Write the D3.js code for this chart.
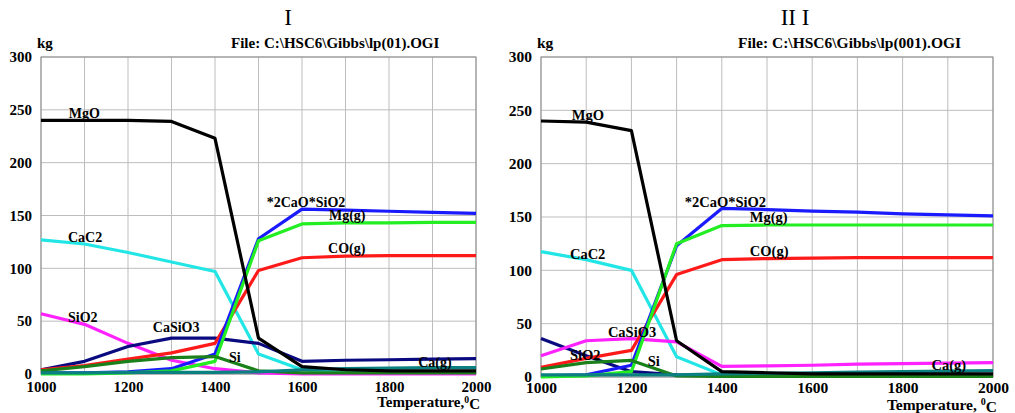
<!DOCTYPE html>
<html>
<head>
<meta charset="utf-8">
<script src="https://cdn.jsdelivr.net/npm/d3@7"></script>
<style>
  body { margin: 0; background: #fff; }
</style>
</head>
<body>
<svg id="chart" width="1015" height="413"></svg>
<script>
// temperatures, degC
var temps = [1000, 1100, 1200, 1300, 1400, 1500, 1600, 1700, 1800, 1900, 2000];
var yTicks = [0, 50, 100, 150, 200, 250, 300];
var xTickLabels = [1000, 1200, 1400, 1600, 1800, 2000];

// panel I  (lp(01))
var mgoI    = [240, 240, 240, 239, 223, 34, 7, 4, 3, 3, 3];
var cac2I   = [127, 123, 115, 106, 97, 19, 4, 1, 1, 1, 1];
var dicalI  = [1, 1, 2, 5, 19, 128, 156, 155, 154, 153, 152];
var mggI    = [0, 0, 1, 3, 12, 126, 142, 143, 143, 143.5, 143.5];
var coI     = [4, 8, 14, 20, 29, 98, 110, 111.5, 112, 112, 112];
var sio2I   = [57, 47, 29, 13, 5, 1, 0, 0, 0, 0, 0];
var casio3I = [4, 12, 26, 34, 34, 29, 12, 13, 13.5, 14, 14.5];
var siI     = [3, 7, 12, 15.5, 16.5, 3, 1, 1, 1, 1, 1];
var otherI  = [1, 1, 1.5, 1.5, 1.5, 2, 4, 5, 5.5, 6, 6];

// panel II I  (lp(001))
var mgoII   = [240, 239, 231, 34, 5, 4, 3, 3, 3, 3, 3];
var cac2II  = [117.5, 110, 100, 19, 2, 1, 1, 1, 1, 1, 1];
var dicalII = [1, 2, 11, 123, 158, 157, 155.5, 154.5, 153, 152, 151];
var mggII   = [0, 1, 5, 125, 142, 142.5, 142.5, 142.5, 142.5, 142.5, 142.5];
var coII    = [9, 17.5, 25, 96, 110, 111, 111.5, 112, 112, 112, 112];
var caII    = [20, 34, 36, 33, 10, 10.5, 11, 12, 12.5, 13, 13.5];
var sio2II  = [36, 20, 5, 2, 1, 1, 1, 1, 1, 1, 1];
var siII    = [7.5, 13.5, 15.5, 1, 0.5, 0.5, 0.5, 0.5, 0.5, 0.5, 0.5];
var otherII = [2, 2, 2, 2, 3, 3.5, 4, 4.5, 5, 5.5, 6];

// species labels: [text, T, kg]
var labelsI = [
  ["MgO", 1064, 247], ["CaC2", 1062, 130], ["SiO2", 1062, 54],
  ["CaSiO3", 1257, 44.7], ["Si", 1432, 16], ["Ca(g)", 1867, 11.6],
  ["*2CaO*SiO2", 1519, 163], ["Mg(g)", 1662, 150.4], ["CO(g)", 1660, 119]
];
var labelsII = [
  ["MgO", 1068, 245.6], ["CaC2", 1064, 115], ["*2CaO*SiO2", 1318, 164.3],
  ["Mg(g)", 1462, 150], ["CO(g)", 1462, 118], ["CaSiO3", 1148, 42.5],
  ["SiO2", 1064, 20.6], ["Si", 1236, 15], ["Ca(g)", 1864, 11.3]
];

var FONT = "'Liberation Serif', 'Times New Roman', serif";
var svg = d3.select("#chart");

function drawPanel(p) {
  var x = d3.scaleLinear().domain([1000, 2000]).range([p.left, p.right]);
  var y = d3.scaleLinear().domain([0, 300]).range([p.bottom, p.top]);
  var g = svg.append("g");

  // grid
  g.selectAll("line.vg").data(d3.range(1000, 2001, 100)).enter().append("line")
    .attr("x1", d => x(d)).attr("x2", d => x(d))
    .attr("y1", p.top).attr("y2", p.bottom)
    .style("stroke", "#bdbdbd").style("stroke-width", 1);
  g.selectAll("line.hg").data(yTicks).enter().append("line")
    .attr("x1", p.left).attr("x2", p.right)
    .attr("y1", d => y(d)).attr("y2", d => y(d))
    .style("stroke", "#bdbdbd").style("stroke-width", 1);
  g.append("rect")
    .attr("x", p.left).attr("y", p.top)
    .attr("width", p.right - p.left).attr("height", p.bottom - p.top)
    .style("fill", "none").style("stroke", "#8c8c8c").style("stroke-width", 1);

  // axes (text only, the grid does the rest)
  var yAxis = d3.axisLeft(y).tickValues(yTicks).tickSize(0).tickPadding(9);
  var ya = g.append("g").attr("transform", "translate(" + p.left + ",0)").call(yAxis);
  var xAxis = d3.axisBottom(x).tickValues(xTickLabels).tickSize(0).tickPadding(p.xpad).tickFormat(d3.format("d"));
  var xa = g.append("g").attr("transform", "translate(0," + p.bottom + ")").call(xAxis);
  [ya, xa].forEach(function (a) {
    a.attr("font-family", null).attr("font-size", null);
    a.select(".domain").remove();
    a.selectAll("text").style("font-family", FONT)
      .style("font-weight", "bold").style("font-size", p.fs + "px").style("fill", "#000");
  });

  // series
  var line = d3.line().x((d, i) => x(temps[i])).y(d => y(d));
  p.series.forEach(function (s) {
    g.append("path").datum(s.values)
      .attr("d", line)
      .style("fill", "none").style("stroke", s.color)
      .style("stroke-width", 3.2).style("stroke-linejoin", "round");
  });

  // species labels
  g.selectAll("text.lab").data(p.labels).enter().append("text")
    .attr("x", d => x(d[1])).attr("y", d => y(d[2]))
    .attr("dy", "0.35em")
    .style("font-family", FONT)
    .style("font-weight", "bold").style("font-size", (p.fs - 1) + "px")
    .text(d => d[0]);

  // titles
  g.append("text").attr("x", p.titleX).attr("y", 25)
    .attr("text-anchor", "middle").style("font-family", FONT)
    .style("font-size", "23px").text(p.title);
  g.append("text").attr("x", p.left - 4).attr("y", 48)
    .style("font-family", FONT)
    .style("font-weight", "bold").style("font-size", p.fs + "px").text("kg");
  g.append("text").attr("x", p.fileX).attr("y", 48)
    .style("font-family", FONT)
    .style("font-weight", "bold").style("font-size", p.fs + "px").text(p.file);
  var xl = g.append("text").attr("x", p.right + 4).attr("y", p.xlabY)
    .attr("text-anchor", "end").style("font-family", FONT)
    .style("font-weight", "bold").style("font-size", p.fs + "px");
  xl.append("tspan").text(p.xlab);
  xl.append("tspan").attr("dy", "-0.45em").style("font-size", (p.fs * 0.65) + "px").text("0");
  xl.append("tspan").attr("dy", "0.45em").text("C");
}

drawPanel({
  left: 41, right: 476, top: 57, bottom: 374, fs: 15, xlabY: 407, xpad: 7,
  title: "I", titleX: 288, file: "File: C:\\HSC6\\Gibbs\\lp(01).OGI", fileX: 231,
  xlab: "Temperature,",
  labels: labelsI,
  series: [
    { values: cac2I, color: "#22e6e6" },
    { values: sio2I, color: "#ff22ff" },
    { values: casio3I, color: "#0a0a80" },
    { values: coI, color: "#ff1a1a" },
    { values: dicalI, color: "#1a1aff" },
    { values: mggI, color: "#22ee22" },
    { values: siI, color: "#1a801a" },
    { values: otherI, color: "#0a8080" },
    { values: mgoI, color: "#000000" }
  ]
});

drawPanel({
  left: 541, right: 993, top: 57, bottom: 377, fs: 15.5, xlabY: 410, xpad: 5,
  title: "II I", titleX: 795, file: "File: C:\\HSC6\\Gibbs\\lp(001).OGI", fileX: 738,
  xlab: "Temperature, ",
  labels: labelsII,
  series: [
    { values: cac2II, color: "#22e6e6" },
    { values: sio2II, color: "#0a0a80" },
    { values: caII, color: "#ff22ff" },
    { values: coII, color: "#ff1a1a" },
    { values: dicalII, color: "#1a1aff" },
    { values: mggII, color: "#22ee22" },
    { values: siII, color: "#1a801a" },
    { values: otherII, color: "#0a8080" },
    { values: mgoII, color: "#000000" }
  ]
});
</script>
</body>
</html>
